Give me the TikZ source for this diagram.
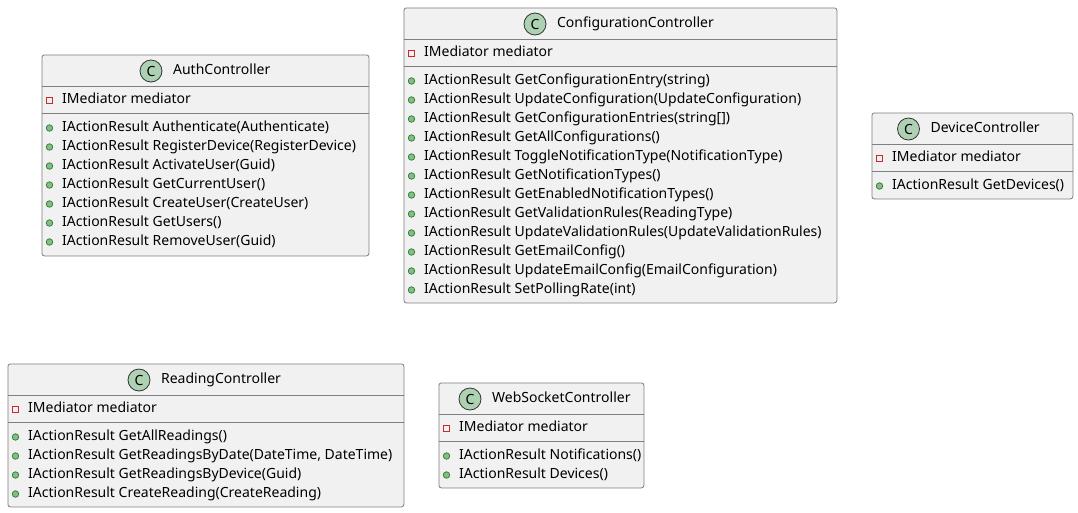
\documentclass[tikz,border=0pt]{standalone}
\usepackage{fontspec}
\setmainfont{Noto Sans}
\definecolor{boxfill}{HTML}{F1F1F1}
\definecolor{boxline}{HTML}{7F7F7F}
\definecolor{spotfill}{HTML}{ADD1B2}
\definecolor{privline}{HTML}{C82930}
\definecolor{publine}{HTML}{38803F}
\definecolor{pubfill}{HTML}{84BE84}
\tikzset{
  classbox/.style={draw=boxline, fill=boxfill, rounded corners=2.5pt, line width=0.8pt, inner sep=0pt, anchor=north west},
  spot/.style={circle, draw=black!80, fill=spotfill, line width=0.8pt, minimum size=22pt, inner sep=0pt, font=\fontsize{14}{14}\selectfont\bfseries},
  rowtext/.style={anchor=west, inner sep=0pt, text height=10.5pt, text depth=3pt, font=\fontsize{14}{14}\selectfont},
  privmark/.style={draw=privline, line width=0.8pt, minimum size=6pt, inner sep=0pt},
  pubmark/.style={circle, draw=publine, fill=pubfill, line width=0.8pt, minimum size=6.5pt, inner sep=0pt}
}
% name, x, y, width, height, spot offset, title, methods
\newcommand{\umlclass}[8]{
  \node[classbox, minimum width=#4pt, minimum height=#5pt] (#1) at (#2,#3) {};
  \draw[boxline, line width=0.8pt] ([yshift=-32pt]#1.north west) -- ([yshift=-32pt]#1.north east);
  \draw[boxline, line width=0.8pt] ([yshift=-58.5pt]#1.north west) -- ([yshift=-58.5pt]#1.north east);
  \node[spot] (#1-spot) at ([xshift=#6pt,yshift=-16.5pt]#1.north west) {C};
  \node[rowtext, right=10.5pt] (#1-title) at (#1-spot.east) {#7};
  \node[privmark] (#1-priv) at ([xshift=8pt,yshift=-45.5pt]#1.north west) {};
  \node[rowtext] (#1-attr) at ([xshift=20.5pt,yshift=-45.5pt]#1.north west) {IMediator mediator};
  \foreach \row [count=\i] in {#8} {
    \node[pubmark] (#1-pub\i) at ([xshift=8pt,yshift=-54.5pt-19pt*\i]#1.north west) {};
    \node[rowtext] (#1-row\i) at ([xshift=20.5pt,yshift=-54.5pt-19pt*\i]#1.north west) {\row};
  }
}
\begin{document}
\begin{tikzpicture}[x=1pt, y=-1pt]
  \useasboundingbox (0,0) rectangle (1078,512);

  \umlclass{auth}{41.5}{54.5}{327}{201}{109.5}{AuthController}{
    IActionResult Authenticate(Authenticate),
    IActionResult RegisterDevice(RegisterDevice),
    IActionResult ActivateUser(Guid),
    IActionResult GetCurrentUser(),
    IActionResult CreateUser(CreateUser),
    IActionResult GetUsers(),
    IActionResult RemoveUser(Guid)}

  \umlclass{config}{403.5}{7.5}{433}{295}{131.5}{ConfigurationController}{
    IActionResult GetConfigurationEntry(string),
    IActionResult UpdateConfiguration(UpdateConfiguration),
    IActionResult GetConfigurationEntries(string[]),
    IActionResult GetAllConfigurations(),
    IActionResult ToggleNotificationType(NotificationType),
    IActionResult GetNotificationTypes(),
    IActionResult GetEnabledNotificationTypes(),
    IActionResult GetValidationRules(ReadingType),
    IActionResult UpdateValidationRules(UpdateValidationRules),
    IActionResult GetEmailConfig(),
    IActionResult UpdateEmailConfig(EmailConfiguration),
    IActionResult SetPollingRate(int)}

  \umlclass{device}{871.5}{112.5}{201}{86}{37}{DeviceController}{
    IActionResult GetDevices()}

  \umlclass{reading}{7.5}{363.5}{396}{143}{131.5}{ReadingController}{
    IActionResult GetAllReadings(),
    {IActionResult GetReadingsByDate(DateTime, DateTime)},
    IActionResult GetReadingsByDevice(Guid),
    IActionResult CreateReading(CreateReading)}

  \umlclass{websocket}{438.5}{382.5}{205}{105}{31.5}{WebSocketController}{
    IActionResult Notifications(),
    IActionResult Devices()}
\end{tikzpicture}
\end{document}
